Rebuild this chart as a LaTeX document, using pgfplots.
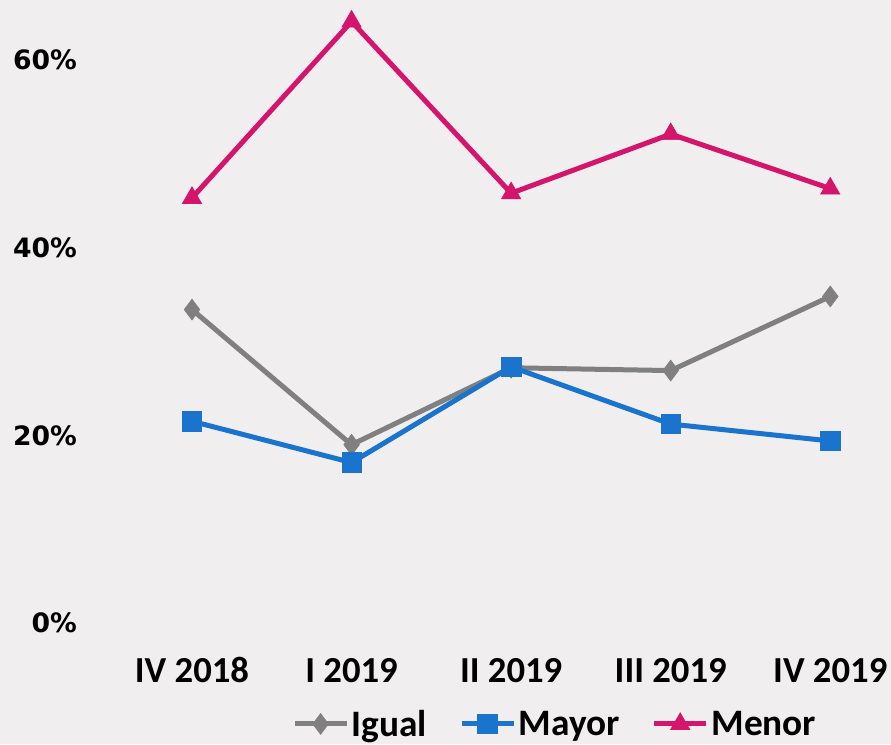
\documentclass[border=0pt]{standalone}
\usepackage{fontspec}
\setmainfont{Carlito}
\newfontfamily\dvs{DejaVu Sans}
\usepackage{pgfplots}
\pgfplotsset{compat=1.18}
\definecolor{bg}{HTML}{F0EEEF}
\definecolor{cgray}{HTML}{808080}
\definecolor{cblue}{HTML}{1A74CE}
\definecolor{cmag}{HTML}{D5156B}
\begin{document}
\begin{tikzpicture}
\fill[bg] (0,0) rectangle (668.25pt,558pt);
\useasboundingbox (0,0) rectangle (668.25pt,558pt);
\begin{axis}[
  at={(144pt,90.75pt)}, anchor=origin,
  scale only axis, width=584.25pt, height=464.5pt,
  xmin=-0.5, xmax=4.382, ymin=0, ymax=66,
  clip=false,
  axis line style={draw=none}, tick style={draw=none},
  xtick={0,1,2,3,4},
  xticklabels={IV 2018,I 2019,II 2019,III 2019,IV 2019},
  ytick={0,20,40,60},
  yticklabels={0\%,20\%,40\%,60\%},
  xticklabel style={font=\fontsize{27.5}{30}\selectfont\bfseries, anchor=base, inner sep=0pt, yshift=-44.25pt},
  yticklabel style={font=\dvs\fontsize{20}{24}\selectfont\bfseries, anchor=east, inner sep=0pt, xshift=-26.25pt},
  legend columns=3,
  legend style={at={(axis description cs:0.569,-0.163)}, anchor=center, draw=none, fill=none,
    font=\fontsize{28}{30}\selectfont\bfseries, inner sep=0pt,
    /tikz/every even column/.append style={column sep=22pt}},
  legend image code/.code={
    \draw[mark repeat=2,mark phase=2] plot coordinates {(0pt,0pt)(19.5pt,0pt)(39pt,0pt)};
  },
  every axis plot/.append style={line width=3.75pt},
]
\addplot[cgray, mark=diamond*, mark size=7.8pt, mark options={solid, line width=0.5pt}]
  coordinates {(0,33.4) (1,19.0) (2,27.2) (3,26.9) (4,34.8)};
\addlegendentry{Igual}
\addplot[cblue, mark=square*, mark size=7.3pt, mark options={solid, line width=0.5pt}]
  coordinates {(0,21.5) (1,17.1) (2,27.3) (3,21.2) (4,19.4)};
\addlegendentry{Mayor}
\addplot[cmag, mark=triangle*, mark size=8.3pt, mark options={solid, line width=0.5pt}]
  coordinates {(0,45.3) (1,64.1) (2,45.8) (3,52.1) (4,46.3)};
\addlegendentry{Menor}
\end{axis}
\end{tikzpicture}
\end{document}
